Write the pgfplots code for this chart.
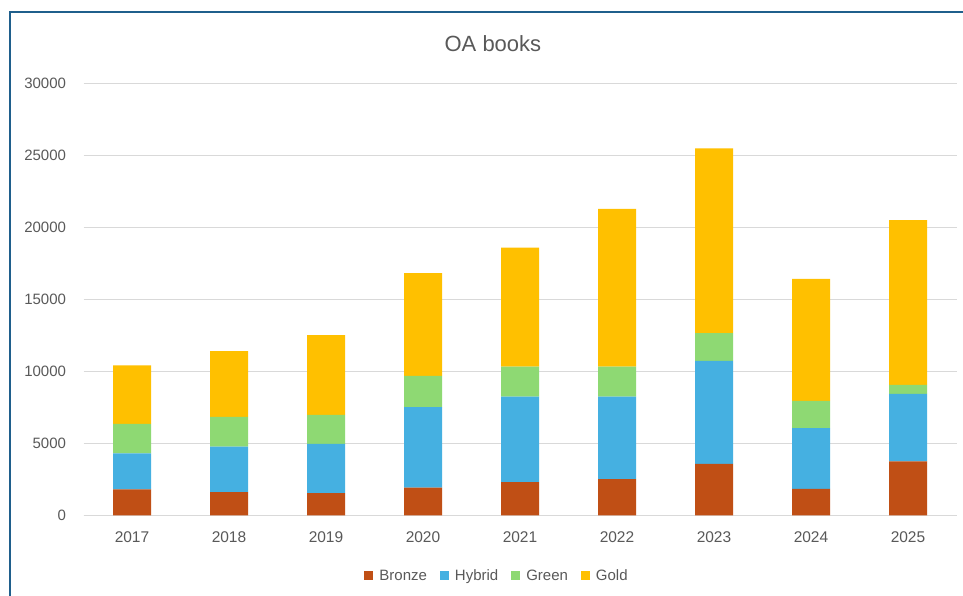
\documentclass[border=0pt]{standalone}
\usepackage{pgfplots}
\usepackage{pgfplotstable}
\pgfplotsset{compat=1.18}
\usepackage{fontspec}
\setmainfont{Liberation Sans}
\definecolor{bronze}{RGB}{192,79,21}
\definecolor{hybrid}{RGB}{69,176,225}
\definecolor{oagreen}{RGB}{142,217,115}
\definecolor{gold}{RGB}{255,192,0}
\definecolor{txt}{RGB}{89,89,89}
\definecolor{gridc}{RGB}{217,217,217}
\definecolor{framec}{RGB}{31,95,140}
\pgfplotstableread{
x B H G Au
0 1820 2490 2050 4060
1 1630 3150 2070 4570
2 1560 3410 2020 5530
3 1940 5580 2170 7140
4 2320 5930 2090 8260
5 2530 5720 2090 10960
6 3590 7150 1920 12840
7 1850 4220 1890 8470
8 3750 4700 620 11450
}\oadata
\begin{document}
\begin{tikzpicture}[x=1pt,y=1pt]
\useasboundingbox (0,0) rectangle (963,596);
\fill[white] (0,0) rectangle (963,596);
\draw[framec, line width=1.5pt] (10,0) -- (10,584) -- (963,584);
\begin{axis}[
  at={(83.5pt,80.5pt)}, anchor=south west,
  scale only axis, width=873pt, height=432pt,
  ybar stacked, bar width=38pt,
  xmin=-0.5, xmax=8.5, ymin=0, ymax=30000,
  axis lines*=left,
  x axis line style={draw=gridc, line width=1pt, -},
  y axis line style={draw=none},
  xtick={0,...,8},
  xticklabels={2017,2018,2019,2020,2021,2022,2023,2024,2025},
  xtick style={draw=none},
  extra x ticks={-0.5,0.5,...,8.5},
  extra x tick labels={},
  extra x tick style={tick align=outside, major tick length=5pt,
     tick style={draw=gridc, line width=1pt}, xmajorgrids=false},
  ytick={0,5000,...,30000},
  ytick style={draw=none},
  ymajorgrids, grid style={draw=gridc, line width=1pt},
  /pgf/number format/assume math mode=true,
  /pgf/number format/1000 sep={},
  scaled y ticks=false,
  yticklabel style={xshift=-14pt, font=\fontsize{15}{17}\selectfont, text=txt},
  xticklabel style={yshift=-13pt, font=\fontsize{15.5}{17}\selectfont, text=txt},
  title={OA books},
  title style={at={(axis description cs:0.469,1)}, anchor=center, yshift=33.5pt,
     font=\fontsize{22}{24}\selectfont, text=txt},
  legend style={at={(axis description cs:0.4737,-0.14)}, anchor=center,
     legend columns=-1, draw=none, fill=none, font=\fontsize{15}{17}\selectfont, text=txt,
     /tikz/every odd column/.append style={column sep=4pt},
     /tikz/every even column/.append style={column sep=11pt}},
  legend cell align=left,
]
\addplot[fill=bronze, draw=none, legend image code/.code={\fill[bronze] (0pt,-4.5pt) rectangle (9pt,4.5pt);}] table[x=x,y=B]{\oadata};
\addplot[fill=hybrid, draw=none, legend image code/.code={\fill[hybrid] (0pt,-4.5pt) rectangle (9pt,4.5pt);}] table[x=x,y=H]{\oadata};
\addplot[fill=oagreen, draw=none, legend image code/.code={\fill[oagreen] (0pt,-4.5pt) rectangle (9pt,4.5pt);}] table[x=x,y=G]{\oadata};
\addplot[fill=gold, draw=none, legend image code/.code={\fill[gold] (0pt,-4.5pt) rectangle (9pt,4.5pt);}] table[x=x,y=Au]{\oadata};
\legend{Bronze,Hybrid,Green,Gold}
\end{axis}
\end{tikzpicture}
\end{document}
